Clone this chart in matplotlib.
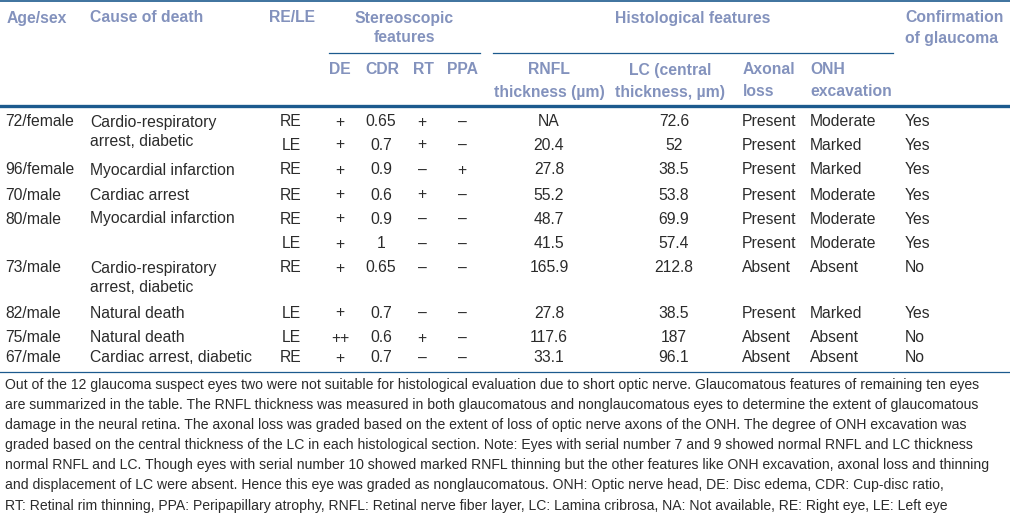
import matplotlib
matplotlib.use("Agg")
import matplotlib.pyplot as plt

# table data
age_sex = ["72/female", "", "96/female", "70/male", "80/male", "", "73/male", "82/male", "75/male", "67/male"]
cause = ["Cardio-respiratory\narrest, diabetic", "", "Myocardial infarction", "Cardiac arrest",
         "Myocardial infarction", "", "Cardio-respiratory\narrest, diabetic", "Natural death",
         "Natural death", "Cardiac arrest, diabetic"]
eye = ["RE", "LE", "RE", "RE", "RE", "LE", "RE", "LE", "LE", "RE"]
de = ["+", "+", "+", "+", "+", "+", "+", "+", "++", "+"]
cdr = ["0.65", "0.7", "0.9", "0.6", "0.9", "1", "0.65", "0.7", "0.6", "0.7"]
rt = ["+", "+", "–", "+", "–", "–", "–", "–", "+", "–"]
ppa = ["–", "–", "+", "–", "–", "–", "–", "–", "–", "–"]
rnfl = ["NA", "20.4", "27.8", "55.2", "48.7", "41.5", "165.9", "27.8", "117.6", "33.1"]
lc = ["72.6", "52", "38.5", "53.8", "69.9", "57.4", "212.8", "38.5", "187", "96.1"]
axonal = ["Present", "Present", "Present", "Present", "Present", "Present", "Absent", "Present", "Absent", "Absent"]
onh = ["Moderate", "Marked", "Marked", "Moderate", "Moderate", "Moderate", "Absent", "Marked", "Absent", "Absent"]
confirm = ["Yes", "Yes", "Yes", "Yes", "Yes", "Yes", "No", "Yes", "No", "No"]

footnote = [
    "Out of the 12 glaucoma suspect eyes two were not suitable for histological evaluation due to short optic nerve. Glaucomatous features of remaining ten eyes",
    "are summarized in the table. The RNFL thickness was measured in both glaucomatous and nonglaucomatous eyes to determine the extent of glaucomatous",
    "damage in the neural retina. The axonal loss was graded based on the extent of loss of optic nerve axons of the ONH. The degree of ONH excavation was",
    "graded based on the central thickness of the LC in each histological section. Note: Eyes with serial number 7 and 9 showed normal RNFL and LC thickness",
    "normal RNFL and LC. Though eyes with serial number 10 showed marked RNFL thinning but the other features like ONH excavation, axonal loss and thinning",
    "and displacement of LC were absent. Hence this eye was graded as nonglaucomatous. ONH: Optic nerve head, DE: Disc edema, CDR: Cup-disc ratio,",
    "RT: Retinal rim thinning, PPA: Peripapillary atrophy, RNFL: Retinal nerve fiber layer, LC: Lamina cribrosa, NA: Not available, RE: Right eye, LE: Left eye",
]

# layout (pixel coordinates)
row_y = [122, 145, 170, 195, 219, 244, 268, 313, 338, 358]
line_col = "#1c5a8e"
head_col = "#8392bd"
body_col = "#2b2b2b"
fs_body = 11.3
fs_head = 11.3
fs_note = 10.1

plt.rcParams["font.family"] = ["Liberation Sans", "DejaVu Sans"]

fig = plt.figure(figsize=(10.1, 5.13), dpi=100)
ax = fig.add_axes([0, 0, 1, 1])
ax.set_xlim(0, 1010)
ax.set_ylim(513, 0)
ax.axis("off")

# rules
ax.plot([0, 1010], [1, 1], color=line_col, lw=1.2)
ax.plot([329, 480], [53, 53], color=line_col, lw=0.9)
ax.plot([493, 893], [53, 53], color=line_col, lw=0.9)
ax.plot([0, 1010], [106, 106], color=line_col, lw=2.4)
ax.plot([0, 1010], [371.5, 371.5], color=line_col, lw=0.9)

def head(x, y, lines, ha="left", gap=20):
    for k, s in enumerate(lines):
        ax.text(x, y + k * gap, s, ha=ha, va="center", color=head_col,
                fontsize=fs_head, fontweight="bold")

head(7, 18, ["Age/sex"])
head(90, 18, ["Cause of death"])
head(292, 18, ["RE/LE"], "center")
head(404, 18, ["Stereoscopic", "features"], "center")
head(693, 18, ["Histological features"], "center")
head(905, 18, ["Confirmation", "of glaucoma"])
head(340, 70, ["DE"], "center")
head(382, 70, ["CDR"], "center")
head(423, 70, ["RT"], "center")
head(462, 70, ["PPA"], "center")
head(549, 70, ["RNFL", "thickness (µm)"], "center", 22)
head(670, 70, ["LC (central", "thickness, µm)"], "center", 22)
head(743, 70, ["Axonal", "loss"], gap=22)
head(810, 70, ["ONH", "excavation"], gap=22)

columns = [
    (age_sex, 5, "left"), (eye, 291, "center"), (de, 340, "center"),
    (cdr, 381, "center"), (rt, 422, "center"), (ppa, 462, "center"),
    (rnfl, 549, "center"), (lc, 674, "center"), (axonal, 742, "left"),
    (onh, 810, "left"), (confirm, 905, "left"),
]
for vals, x, ha in columns:
    for v, y in zip(vals, row_y):
        ax.text(x, y, v, ha=ha, va="center", color=body_col, fontsize=fs_body)

for v, y in zip(cause, row_y):
    for k, part in enumerate(v.split("\n")):
        ax.text(90, y + k * 20, part, ha="left", va="center", color=body_col, fontsize=fs_body)

for i, line in enumerate(footnote):
    ax.text(5, 385 + i * 20.1, line, ha="left", va="center", color=body_col, fontsize=fs_note)

fig.savefig("out.png", dpi=100)
